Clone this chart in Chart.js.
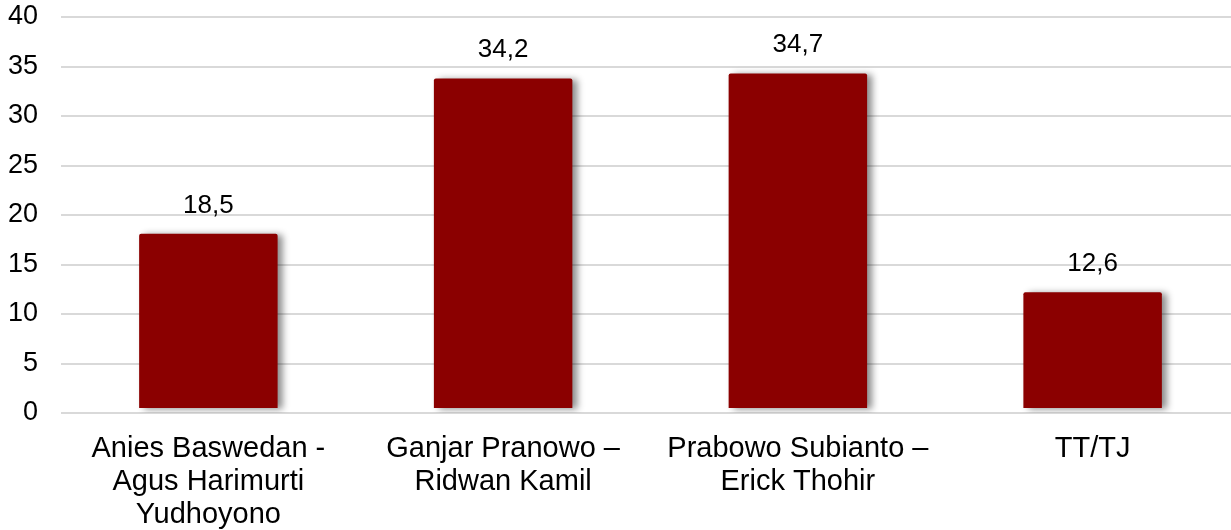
<!DOCTYPE html>
<html>
<head>
<meta charset="utf-8">
<script src="https://cdn.jsdelivr.net/npm/chart.js@4.4.1/dist/chart.umd.min.js"></script>
<style>
  html, body { margin: 0; padding: 0; background: #fff; overflow: hidden; }
  #wrap { position: absolute; left: 0; top: 0; width: 1240px; height: 530px; }
</style>
</head>
<body>
<div id="wrap"><canvas id="c"></canvas></div>
<script>
const categories = [
  ['Anies Baswedan -', 'Agus Harimurti', 'Yudhoyono'],
  ['Ganjar Pranowo \u2013', 'Ridwan Kamil'],
  ['Prabowo Subianto \u2013', 'Erick Thohir'],
  ['TT/TJ']
];
const values = [18.5, 34.2, 34.7, 12.6];
const yTicks = [0, 5, 10, 15, 20, 25, 30, 35, 40];

const FONT = '"Liberation Sans", Arial, sans-serif';

const shadowPlugin = {
  id: 'barShadow',
  beforeDatasetsDraw(chart) {
    const ctx = chart.ctx;
    ctx.save();
    ctx.shadowColor = 'rgba(0,0,0,0.45)';
    ctx.shadowBlur = 7;
    ctx.shadowOffsetX = 5;
    ctx.shadowOffsetY = 1;
  },
  afterDatasetsDraw(chart) {
    chart.ctx.restore();
  }
};

const labelPlugin = {
  id: 'valueLabels',
  afterDatasetsDraw(chart) {
    const ctx = chart.ctx;
    const meta = chart.getDatasetMeta(0);
    ctx.save();
    ctx.font = '26px ' + FONT;
    ctx.fillStyle = '#000';
    ctx.textAlign = 'center';
    ctx.textBaseline = 'alphabetic';
    meta.data.forEach((el, i) => {
      const txt = values[i].toFixed(1).replace('.', ',');
      ctx.fillText(txt, el.x, el.y - 17);
    });
    ctx.restore();
  }
};

new Chart(document.getElementById('c'), {
  type: 'bar',
  data: {
    labels: categories,
    datasets: [{
      data: values,
      backgroundColor: '#8B0000',
      borderWidth: 0,
      borderRadius: 2,
      inflateAmount: -4,
      barPercentage: 0.497,
      categoryPercentage: 1.0
    }]
  },
  options: {
    responsive: true,
    maintainAspectRatio: false,
    animation: false,
    devicePixelRatio: 1,
    layout: { padding: { top: 17, left: 0, right: 0, bottom: 0 } },
    plugins: {
      legend: { display: false },
      tooltip: { enabled: false }
    },
    scales: {
      x: {
        grid: { display: false, drawTicks: false },
        border: { display: false },
        ticks: {
          color: '#000',
          font: { family: FONT, size: 29, lineHeight: 1.14 },
          padding: 19,
          maxRotation: 0,
          autoSkip: false
        },
        afterFit(scale) {
          scale.height = 117;
          scale.paddingTop = 0; scale.paddingBottom = 0;
          scale.paddingLeft = 0; scale.paddingRight = 0;
        }
      },
      y: {
        min: 0,
        max: 40,
        afterBuildTicks(scale) { scale.ticks = yTicks.map(v => ({ value: v })); },
        grid: { color: '#d9d9d9', lineWidth: 2, drawTicks: false },
        border: { display: false },
        ticks: {
          color: '#000',
          font: { family: FONT, size: 27 },
          padding: 23
        },
        afterFit(scale) {
          scale.width = 61;
          scale.paddingTop = 0; scale.paddingBottom = 0;
        }
      }
    }
  },
  plugins: [shadowPlugin, labelPlugin]
});
</script>
</body>
</html>
